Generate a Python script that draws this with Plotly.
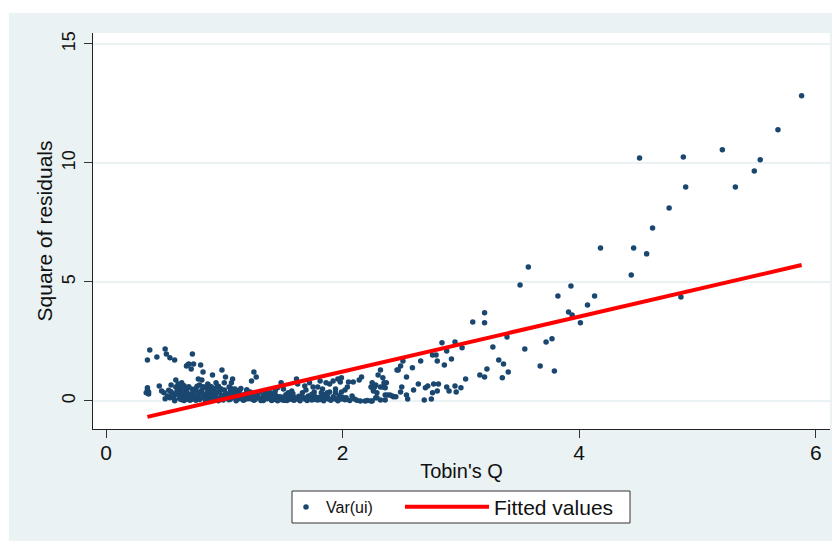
import plotly.graph_objects as go

# ---- data: Tobin's Q vs square of residuals ----
# left outliers / upper edge of dense cluster
xa = [0.37, 0.35, 0.43, 0.50, 0.51, 0.54, 0.58, 0.73, 0.68, 0.70, 0.74, 0.80, 0.72, 0.82, 0.81, 0.90,
      0.98, 1.01, 1.07, 1.25, 1.27, 1.23, 0.59, 0.78, 0.69, 0.64, 0.86, 0.93, 1.00, 1.06, 0.61, 0.55,
      0.35, 0.36, 0.36, 0.35, 0.34]
ya = [2.14, 1.72, 1.85, 2.18, 1.97, 1.81, 1.72, 1.97, 1.47, 1.55, 1.55, 1.51, 1.34, 1.22, 0.88, 1.09,
      1.30, 1.01, 0.92, 1.22, 1.01, 0.84, 0.88, 0.92, 1.51, 0.76, 0.71, 0.76, 0.76, 0.76, 0.71, 0.67,
      0.46, 0.29, 0.38, 0.55, 0.34]
# dense cluster
xb = [0.45, 0.47, 0.49, 0.52, 0.54, 0.56, 0.58, 0.60, 0.62, 0.63, 0.65, 0.66, 0.68, 0.69, 0.70, 0.72,
      0.73, 0.75, 0.76, 0.78, 0.79, 0.80, 0.82, 0.83, 0.85, 0.86, 0.88, 0.89, 0.90, 0.92, 0.93, 0.95,
      0.96, 0.98, 0.99, 1.00, 1.02, 1.03, 1.05, 1.06, 1.08, 1.10, 1.12, 1.13, 1.15, 1.17, 1.19, 1.21,
      1.23, 1.25,
      0.50, 0.53, 0.57, 0.59, 0.61, 0.64, 0.67, 0.71, 0.74, 0.77, 0.81, 0.84, 0.87, 0.91, 0.94, 0.97,
      1.01, 1.04, 1.07, 1.09, 1.11, 1.14, 1.16, 1.18, 1.20, 1.22, 1.24, 1.26, 1.28, 1.31, 1.34, 1.37,
      1.41, 1.45, 1.49, 0.55, 0.62, 0.68, 0.76, 0.84, 0.90, 0.97, 1.05, 1.12, 0.66, 0.72, 0.88, 0.94,
      1.03, 1.10,
      0.58, 0.63, 0.67, 0.71, 0.75, 0.79, 0.83, 0.87, 0.91, 0.95, 0.99, 1.03, 1.07, 1.11, 1.15, 1.19,
      1.23, 1.27, 1.32, 1.36, 1.40, 1.44, 1.47, 1.51, 1.55,
      0.56, 0.60, 0.64, 0.69, 0.73, 0.77, 0.81, 0.85, 0.89, 0.93, 0.97, 1.01, 1.05, 1.09, 1.13, 1.17,
      1.21, 1.26, 1.30, 1.35, 1.39, 1.43, 1.48, 1.53, 1.58, 1.63, 1.69, 1.75, 1.81, 1.87, 1.93, 2.00,
      0.62, 0.70, 0.79, 0.87, 0.95, 1.04, 1.14, 1.19, 0.74, 0.86, 0.98, 1.08]
yb = [0.63, 0.42, 0.34, 0.21, 0.13, 0.30, 0.04, 0.32, 0.12, 0.48, 0.21, 0.02, 0.38, 0.15, 0.55, 0.08,
      0.27, 0.44, 0.03, 0.18, 0.36, 0.11, 0.60, 0.24, 0.06, 0.41, 0.14, 0.30, 0.02, 0.52, 0.19, 0.09,
      0.35, 0.23, 0.04, 0.46, 0.13, 0.28, 0.07, 0.39, 0.16, 0.01, 0.33, 0.10, 0.25, 0.05, 0.42, 0.12,
      0.20, 0.03,
      0.09, 0.45, 0.18, 0.58, 0.26, 0.05, 0.51, 0.29, 0.10, 0.62, 0.33, 0.02, 0.47, 0.27, 0.58, 0.14,
      0.31, 0.05, 0.22, 0.50, 0.36, 0.18, 0.03, 0.29, 0.09, 0.38, 0.14, 0.06, 0.24, 0.02, 0.11, 0.30,
      0.07, 0.18, 0.04, 0.39, 0.68, 0.22, 0.52, 0.57, 0.40, 0.49, 0.55, 0.44, 0.64, 0.06, 0.16, 0.05,
      0.18, 0.27,
      0.01, 0.07, 0.11, 0.03, 0.16, 0.06, 0.20, 0.09, 0.12, 0.01, 0.15, 0.10, 0.13, 0.07, 0.11, 0.14,
      0.08, 0.12, 0.05, 0.09, 0.02, 0.06, 0.10, 0.03, 0.07,
      0.27, 0.41, 0.33, 0.07, 0.49, 0.24, 0.45, 0.31, 0.60, 0.38, 0.51, 0.21, 0.40, 0.29, 0.45, 0.23,
      0.31, 0.19, 0.37, 0.22, 0.12, 0.26, 0.09, 0.14, 0.05, 0.20, 0.12, 0.17, 0.06, 0.21, 0.10, 0.15,
      0.56, 0.60, 0.67, 0.64, 0.62, 0.59, 0.52, 0.47, 0.35, 0.25, 0.08, 0.49]
# band from Q = 1.3 to 2.5
xc = [2.32, 2.16, 2.14, 2.09, 2.25, 1.99, 1.98, 1.96, 1.92, 1.89, 1.86, 1.81, 2.05, 2.04, 2.02, 1.99,
      1.94, 1.94, 1.89, 1.87, 1.83, 1.79, 1.75, 1.72, 1.61, 1.48, 1.62, 1.68, 1.69, 1.76, 1.82, 1.83,
      1.77, 1.71, 1.66, 1.57, 1.54, 1.50, 1.45, 1.43, 1.39, 1.35, 1.39, 1.47, 1.51, 1.57, 1.62, 1.68,
      1.74, 1.79, 1.88, 1.94, 1.99, 2.08, 2.10, 2.15, 2.19, 2.25, 2.24, 2.26, 2.28, 2.35, 2.36, 2.36,
      2.40, 2.43, 2.28, 2.32, 2.30, 2.47,
      1.33, 1.41, 1.45, 1.53, 1.59, 1.64, 1.70, 1.77, 1.84, 1.90, 1.96, 2.02, 2.06, 2.12, 2.21, 1.30,
      1.37, 1.43, 1.49, 1.56, 1.60, 1.66, 1.72, 1.80, 1.86, 1.92, 1.97, 2.03, 1.33, 1.41, 1.52, 1.58,
      1.74, 1.85]
yc = [1.30, 1.01, 0.88, 0.80, 0.76, 0.97, 0.80, 0.92, 0.84, 0.71, 0.76, 0.84, 0.80, 0.59, 0.46, 0.38,
      0.50, 0.34, 0.38, 0.34, 0.50, 0.59, 0.59, 0.76, 0.92, 0.76, 0.71, 0.63, 0.46, 0.38, 0.34, 0.21,
      0.17, 0.21, 0.34, 0.42, 0.34, 0.50, 0.55, 0.42, 0.34, 0.34, 0.08, 0.17, 0.04, 0.08, 0.08, 0.08,
      0.04, 0.04, 0.08, 0.08, 0.08, 0.21, 0.08, 0.00, 0.00, 0.00, 0.59, 0.50, 0.67, 0.76, 0.55, 0.25,
      0.25, 0.17, 0.13, 0.04, 1.09, 1.30,
      0.02, 0.05, 0.01, 0.02, 0.03, 0.01, 0.02, 0.06, 0.01, 0.03, 0.01, 0.05, 0.02, 0.03, 0.02, 0.12,
      0.18, 0.11, 0.15, 0.19, 0.13, 0.16, 0.10, 0.14, 0.11, 0.18, 0.22, 0.13, 0.25, 0.28, 0.26, 0.30,
      0.28, 0.26]
# upper range Q > 2.2
xd = [2.24, 2.25, 2.26, 2.27, 2.29, 2.29, 2.32, 2.34, 2.34, 2.37, 2.36, 2.38, 2.42, 2.45, 2.46, 2.49,
      2.51, 2.49, 2.50, 2.54, 2.54, 2.55, 2.59, 2.60, 2.64, 2.66, 2.69, 2.70, 2.72, 2.75, 2.76, 2.77,
      2.76, 2.79, 2.80, 2.80, 2.81, 2.84, 2.86, 2.88, 2.88, 2.90, 2.92, 2.95, 2.95, 2.96, 3.00, 3.01,
      3.04, 3.10, 3.20, 3.20, 3.27, 3.32, 3.36, 3.40, 3.39, 3.35, 3.22, 3.16, 3.20, 3.54, 3.50, 3.57,
      3.72, 3.77, 3.67, 3.79, 3.82, 3.93, 3.91, 3.94, 4.01, 4.07, 4.13, 4.18, 4.46, 4.57, 4.44, 4.86,
      4.62, 4.76, 4.51, 4.88, 4.90, 5.21, 5.32, 5.48, 5.53, 5.68, 5.88]
yd = [0.00, 0.59, 0.42, 0.59, 0.34, 0.13, 0.59, 0.59, 0.97, 0.76, 0.04, 0.25, 0.21, 0.17, 1.30, 1.47,
      1.68, 0.38, 0.59, 1.01, 0.25, 0.08, 1.39, 0.46, 0.71, 1.68, 0.04, 0.55, 0.63, 0.08, 1.93, 0.71,
      0.34, 1.93, 1.68, 0.42, 0.71, 2.44, 1.51, 0.59, 2.10, 0.42, 1.76, 2.48, 0.63, 0.38, 0.55, 2.23,
      0.92, 3.32, 3.70, 3.28, 2.27, 1.72, 1.55, 1.22, 2.69, 0.97, 1.34, 1.09, 1.01, 2.18, 4.87, 5.63,
      2.48, 2.61, 1.47, 1.26, 4.41, 4.83, 3.74, 3.61, 3.28, 4.03, 4.41, 6.43, 6.43, 6.18, 5.29, 4.37,
      7.27, 8.11, 10.21, 10.25, 8.99, 10.55, 8.99, 9.66, 10.13, 11.39, 12.82]

q_values = xa + xb + xc + xd
resid_sq = ya + yb + yc + yd

# fitted regression line (end points)
fit_q = [0.35, 5.88]
fit_vals = [-0.67, 5.71]

x_ticks = [0, 2, 4, 6]
y_ticks = [0, 5, 10, 15]

NAVY = "#1A476F"
BG = "#EAF2F3"
FONT = "Liberation Sans, Arial, sans-serif"
TXT = "#111111"

fig = go.Figure()
fig.add_trace(go.Scatter(
    x=q_values, y=resid_sq, mode="markers", name="Var(ui)",
    marker=dict(color=NAVY, size=5.5, line=dict(width=0)),
    legend="legend"))
fig.add_trace(go.Scatter(
    x=fit_q, y=fit_vals, mode="lines", name="Fitted values",
    line=dict(color="#FF0000", width=4),
    legend="legend2"))

# page is offset by the 8px body margin, figure fills the rest of the window
W, H = 832, 533
L, R, T, B = 85, 10, 25, 112
pw = W - L - R
ph = H - T - B

def px_x(p):
    return (p - L) / pw

def px_y(p):
    return (H - B - p) / ph

fig.update_layout(
    width=W, height=H,
    margin=dict(l=L, r=R, t=T, b=B, pad=0),
    paper_bgcolor=BG, plot_bgcolor="white",
    font=dict(family=FONT, color=TXT),
    showlegend=True,
    legend=dict(x=px_x(278), y=px_y(499), xanchor="left", yanchor="middle",
                bgcolor="rgba(0,0,0,0)", borderwidth=0,
                font=dict(size=16, family=FONT, color=TXT),
                itemwidth=30),
    legend2=dict(x=px_x(392), y=px_y(499), xanchor="left", yanchor="middle",
                 bgcolor="rgba(0,0,0,0)", borderwidth=0,
                 font=dict(size=21, family=FONT, color=TXT),
                 itemwidth=84),
    xaxis=dict(range=[-0.11, 6.12], tickvals=x_ticks, ticks="outside", ticklen=8,
               tickcolor="#333333", tickwidth=1, showgrid=False, zeroline=False,
               showline=True, linecolor="#222222", linewidth=1,
               ticklabelstandoff=-3,
               tickfont=dict(size=21, family=FONT, color=TXT),
               title=dict(text="Tobin's Q", font=dict(size=20, family=FONT, color=TXT),
                          standoff=0)),
    yaxis=dict(range=[-1.18, 15.46], tickvals=y_ticks, ticks="outside", ticklen=8,
               tickcolor="#333333", tickwidth=1, showgrid=True, gridcolor=BG, gridwidth=1.5,
               zeroline=False, showline=True, linecolor="#222222", linewidth=1,
               tickangle=-90, ticklabelstandoff=2,
               tickfont=dict(size=18, family=FONT, color=TXT),
               title=dict(text="Square of residuals", font=dict(size=21, family=FONT, color=TXT),
                          standoff=0)),
    shapes=[
        # white outer strips (top and left)
        dict(type="rect", xref="paper", yref="paper", x0=px_x(-5), x1=px_x(W + 5),
             y0=px_y(5), y1=px_y(-5), fillcolor="white", line=dict(width=0), layer="below"),
        dict(type="rect", xref="paper", yref="paper", x0=px_x(-5), x1=px_x(1),
             y0=px_y(H + 5), y1=px_y(-5), fillcolor="white", line=dict(width=0), layer="below"),
        # legend frame
        dict(type="rect", xref="paper", yref="paper", x0=px_x(284), x1=px_x(622),
             y0=px_y(515), y1=px_y(483), fillcolor="white",
             line=dict(color="#333333", width=1), layer="below"),
    ],
)

fig.write_html("out.html")
